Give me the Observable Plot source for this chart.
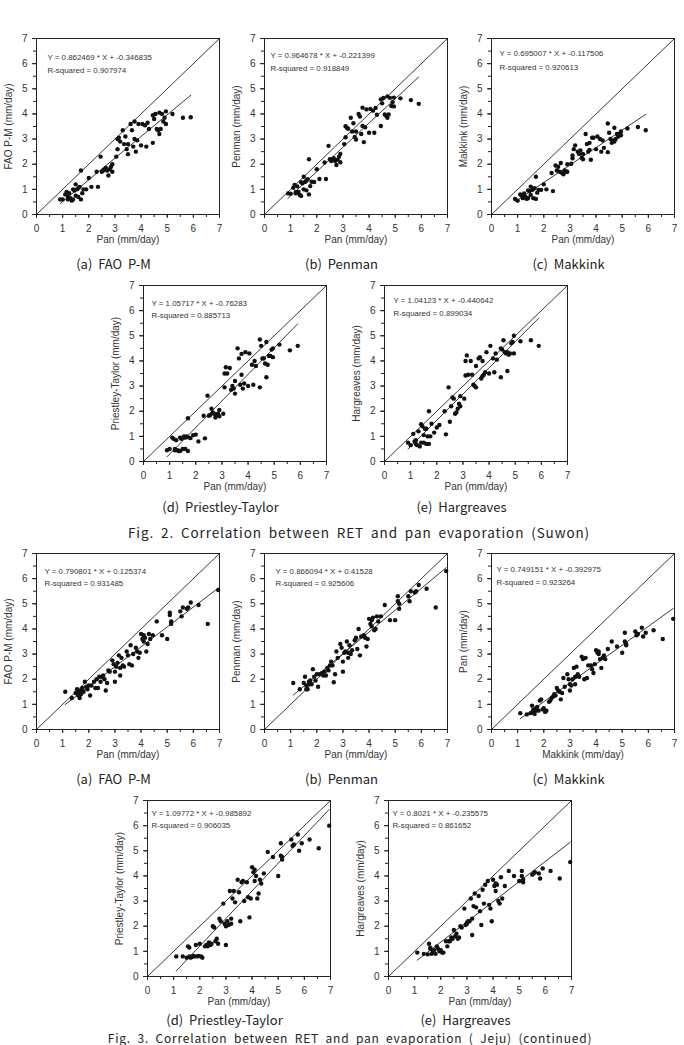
<!DOCTYPE html>
<html><head><meta charset="utf-8">
<script src="https://cdn.jsdelivr.net/npm/d3@7"></script>
<script src="https://cdn.jsdelivr.net/npm/@observablehq/plot@0.6"></script>
<style>
body{margin:0;background:#fff;}
#page{position:relative;width:684px;height:1045px;overflow:hidden;background:#fff;}
.panel{position:absolute;}
.cap{position:absolute;font-family:"Noto Sans CJK KR",sans-serif;font-size:13px;line-height:14px;color:#222;white-space:pre;transform:translateX(-50%);}
.fig{position:absolute;font-family:"Noto Sans CJK KR",sans-serif;font-size:13.5px;line-height:14px;color:#222;white-space:pre;letter-spacing:0.9px;word-spacing:3px;transform:translateX(-50%);}
.fig.small{font-size:12px;line-height:13px;letter-spacing:0.8px;}
</style></head><body><div id="page"></div>
<script>
// ---------- data ----------
const axisTicks = [0,1,2,3,4,5,6,7];
const minorTicks = [0,0.5,1,1.5,2,2.5,3,3.5,4,4.5,5,5.5,6,6.5,7];

const suwonPan = [0.9,1.0,1.1,1.15,1.2,1.2,1.25,1.3,1.35,1.4, 1.4,1.45,1.5,1.5,1.55,1.6,1.6,1.65,1.7,1.7, 1.75,1.8,1.9,2.0,2.1,2.3,2.35,2.45,2.5,2.55, 2.6,2.65,2.7,2.75,2.8,2.85,2.9,2.9,3.05,3.1, 3.1,3.15,3.2,3.3,3.35,3.4,3.45,3.5,3.5,3.6, 3.65,3.7,3.75,3.75,3.8,3.85,3.9,4.0,4.05,4.15, 4.2,4.25,4.3,4.45,4.45,4.5,4.55,4.6,4.65,4.7, 4.7,4.75,4.8,4.85,4.9,4.95,4.95,5.2,5.6,5.9];
const suwonFAO = [0.6,0.6,0.8,0.9,0.7,0.6,0.85,0.65,0.55,1.0, 0.6,0.95,1.2,0.75,1.0,0.7,1.05,1.1,0.6,1.75, 0.85,1.0,1.0,1.45,1.1,1.7,1.1,2.3,1.7,1.75, 1.8,1.85,1.75,1.55,1.8,1.9,2.0,1.7,2.3,2.6, 3.0,3.05,2.9,3.35,2.8,3.1,2.6,2.8,2.4,3.6, 3.35,2.7,3.0,3.7,2.5,2.95,3.6,2.75,3.6,3.55, 2.7,3.65,3.4,2.85,3.95,3.8,4.0,3.4,3.35,3.2, 4.05,3.4,4.0,3.7,3.85,4.1,3.6,4.0,3.85,3.87];
const suwonPenman = [0.84,0.83,1.06,1.18,0.9,0.84,1.12,0.9,0.78,1.28, 0.74,1.24,1.5,1.0,1.29,0.96,1.34,1.4,0.8,2.2, 1.13,1.3,1.29,1.8,1.41,2.07,1.41,2.73,2.2,2.13, 2.19,2.24,2.13,1.97,2.18,2.3,2.41,2.08,2.8,3.07, 3.51,3.45,3.41,3.85,3.3,3.63,3.08,3.3,2.98,4.0, 3.9,3.2,3.52,4.25,2.88,3.47,4.18,3.25,4.2,4.13, 3.25,4.24,3.97,3.52,4.58,4.42,4.64,3.98,3.93,3.85, 4.7,3.98,4.64,4.32,4.47,4.65,4.3,4.62,4.55,4.4];
const suwonMakkink = [0.62,0.55,0.8,0.75,0.72,0.65,0.84,0.7,0.62,0.96, 0.66,0.93,1.11,0.78,0.97,0.65,1.01,1.05,0.62,1.5, 0.87,0.98,0.98,1.2,1.0,1.65,0.93,1.95,1.75,1.9, 1.7,2.05,1.65,1.6,1.75,1.7,2.0,1.7,2.02,2.24, 2.35,2.6,2.75,2.5,2.41,2.55,2.26,2.41,2.2,3.2, 2.8,2.5,2.57,2.85,2.18,3.05,3.05,2.6,3.1,3.0, 2.5,2.95,2.65,2.48,3.62,3.25,3.0,2.85,2.95,2.9, 3.45,3.0,3.2,3.1,3.2,3.3,3.15,3.42,3.48,3.35];
const suwonPT = [0.45,0.5,0.95,0.9,0.5,0.45,0.85,0.45,0.42,0.95, 0.42,0.9,0.95,0.5,1.0,0.5,0.95,1.0,0.42,1.72, 0.95,0.93,1.05,1.07,0.8,1.82,0.92,2.62,1.82,1.85, 2.1,1.95,1.9,1.75,1.85,1.9,2.05,1.8,1.9,2.95, 3.5,3.75,3.5,3.72,2.85,3.0,2.9,3.2,2.7,4.5, 4.1,3.05,3.45,4.28,2.9,3.1,4.35,3.0,4.3,3.85, 3.05,4.0,3.8,2.95,4.85,4.6,4.1,4.1,3.9,3.35, 4.75,3.85,4.2,4.2,4.45,4.5,4.15,4.65,4.42,4.6];
const suwonHarg = [0.75,0.65,1.1,0.8,0.85,0.7,0.65,1.2,0.6,1.48, 0.75,1.4,1.05,0.75,1.3,0.7,1.3,1.0,0.7,2.0, 1.0,1.5,1.15,1.35,1.45,2.0,1.08,2.95,1.58,2.2, 2.55,2.5,1.9,1.95,2.1,2.3,2.6,2.2,2.5,3.42, 4.0,4.22,3.45,4.0,3.45,3.05,3.0,3.8,2.95,4.1, 4.15,3.3,3.4,4.0,3.45,3.55,4.35,3.5,4.6,4.1, 3.55,4.3,4.05,3.35,4.5,4.45,4.82,4.35,4.3,3.6, 4.35,4.25,4.3,4.7,4.75,5.0,4.3,4.78,4.82,4.6];

const jejuPan = [1.1,1.35,1.5,1.55,1.6,1.6,1.65,1.7,1.7,1.75, 1.8,1.85,1.9,1.95,2.0,2.05,2.1,2.2,2.25,2.3, 2.35,2.4,2.45,2.5,2.55,2.6,2.65,2.7,2.75,2.8, 2.9,2.95,3.0,3.0,3.05,3.1,3.15,3.2,3.2,3.25, 3.3,3.35,3.45,3.5,3.55,3.6,3.65,3.7,3.8,3.85, 3.9,3.95,4.0,4.05,4.1,4.1,4.15,4.2,4.25,4.3, 4.35,4.45,4.6,4.8,5.0,5.1,5.1,5.15,5.15,5.5, 5.55,5.6,5.75,5.8,5.9,6.2,6.55,6.95];
const jejuFAO = [1.5,1.25,1.45,1.6,1.5,1.35,1.25,1.55,1.4,1.65, 1.5,1.9,1.7,1.6,1.75,1.35,1.75,1.9,1.65,2.0, 1.65,2.1,1.9,2.1,2.15,2.0,1.55,1.85,2.35,2.3, 2.75,2.6,2.3,1.9,2.5,2.65,2.95,2.15,2.45,2.85, 2.55,2.5,3.1,2.95,2.6,3.35,2.55,3.0,3.25,3.1, 2.85,3.05,3.8,3.6,3.5,3.75,3.65,3.1,3.4,3.8, 3.6,3.75,4.3,3.75,3.6,4.65,4.55,4.3,4.2,4.7, 4.5,4.85,4.8,4.85,5.05,4.95,4.2,5.55];
const jejuPenman = [1.85,1.6,1.85,2.1,1.75,1.6,1.6,1.9,1.8,1.95, 1.8,2.4,2.1,1.95,2.2,1.7,2.2,2.25,2.15,2.3, 2.15,2.45,2.35,2.55,2.7,2.55,1.88,2.2,3.1,2.85, 3.4,3.25,2.7,2.3,3.05,3.1,3.5,2.85,3.05,3.35, 3.0,3.15,3.55,3.65,3.2,4.0,2.95,3.7,3.75,3.65, 3.3,3.6,4.4,4.2,4.1,4.35,4.45,3.95,4.0,4.5, 4.3,4.5,4.95,4.35,4.35,5.3,5.1,5.0,4.8,5.3, 5.1,5.5,5.45,5.5,5.75,5.6,4.85,6.3];
const jejuMakkink = [0.65,0.6,0.65,0.95,0.8,0.7,0.62,0.85,0.75,0.9, 0.75,1.15,1.2,0.8,0.85,0.7,0.75,1.1,1.15,1.25, 1.3,1.4,1.35,1.65,1.55,1.5,1.2,1.45,2.05,1.7, 2.2,2.0,1.8,1.55,1.75,2.0,2.45,1.8,2.1,2.5, 2.2,2.1,2.9,2.8,2.0,2.85,2.05,2.55,2.55,2.4, 2.25,2.6,3.15,3.05,3.0,3.1,2.8,2.45,2.85,2.95, 2.8,3.2,3.5,3.3,3.05,3.85,3.5,3.35,3.4,3.9, 3.75,3.8,4.05,3.7,3.85,3.95,3.6,4.4];
const jejuPT = [0.8,0.8,0.75,1.2,0.8,1.15,0.75,0.8,0.78,0.82, 0.8,1.25,0.8,0.82,1.3,0.8,0.75,1.2,1.25,1.2, 1.35,1.25,1.3,2.0,1.95,1.4,1.5,1.3,2.3,2.2, 2.9,2.1,2.0,1.25,2.2,2.05,3.4,2.3,2.1,3.1, 3.4,2.95,3.85,3.35,2.2,3.75,3.8,3.0,3.75,3.15, 2.35,3.1,4.35,4.15,3.8,4.25,4.0,3.1,3.3,3.85, 3.7,4.1,4.95,4.75,4.0,5.3,4.8,4.65,4.75,5.45, 5.2,5.25,5.65,5.0,5.3,5.45,5.1,6.0];
const jejuHarg = [0.95,0.9,0.88,1.3,1.1,1.15,0.9,1.0,0.95,1.05, 0.9,1.2,1.1,1.0,1.05,0.95,0.95,1.4,1.2,1.4, 1.4,1.55,1.5,1.85,1.6,1.7,1.5,1.55,2.0,1.95, 2.7,2.05,2.15,2.1,2.2,2.2,3.1,1.65,2.3,2.8, 3.3,2.75,3.2,2.6,2.05,3.45,2.9,3.65,3.8,2.85, 2.7,2.2,3.85,3.6,3.4,3.7,3.65,3.0,2.9,3.95, 3.1,3.6,4.2,4.0,3.8,4.2,4.0,3.75,3.85,4.05, 4.1,4.15,4.1,3.9,4.3,4.2,3.9,4.55];

const slopes     = [0.862469, 0.964678, 0.695007, 1.05717, 1.04123, 0.790801, 0.866094, 0.749151, 1.09772, 0.8021];
const intercepts = [-0.346835, -0.221399, -0.117506, -0.76283, -0.440642, 0.125374, 0.41528, -0.392975, -0.985892, -0.235575];
const rSquared   = [0.907974, 0.918849, 0.920613, 0.885713, 0.899034, 0.931485, 0.925606, 0.923264, 0.906035, 0.861652];
const xLabels = ["Pan (mm/day)","Pan (mm/day)","Pan (mm/day)","Pan (mm/day)","Pan (mm/day)","Pan (mm/day)","Pan (mm/day)","Makkink (mm/day)","Pan (mm/day)","Pan (mm/day)"];
const yLabels = ["FAO P-M (mm/day)","Penman (mm/day)","Makkink (mm/day)","Priestley-Taylor (mm/day)","Hargreaves (mm/day)","FAO P-M (mm/day)","Penman (mm/day)","Pan (mm/day)","Priestley-Taylor (mm/day)","Hargreaves (mm/day)"];
const captions = ["(a)  FAO  P-M","(b)  Penman","(c)  Makkink","(d)  Priestley-Taylor","(e)  Hargreaves","(a)  FAO  P-M","(b)  Penman","(c)  Makkink","(d)  Priestley-Taylor","(e)  Hargreaves"];
const xSeries = [suwonPan,suwonPan,suwonPan,suwonPan,suwonPan,jejuPan,jejuPan,jejuPan,jejuPan,jejuPan];
const ySeries = [suwonFAO,suwonPenman,suwonMakkink,suwonPT,suwonHarg,jejuFAO,jejuPenman,jejuMakkink,jejuPT,jejuHarg];
const figTitles = ["Fig. 2. Correlation between RET and pan evaporation (Suwon)","Fig. 3. Correlation between RET and pan evaporation ( Jeju) (continued)"];

// ---------- layout (frame left, frame top, equation dx, dy1, dy2, caption center y) ----------
const layout = [
  {fl:36, ft:38, dx:11, dy1:19, dy2:32, cy:264},
  {fl:264, ft:38, dx:6, dy1:17, dy2:30, cy:264},
  {fl:491, ft:38, dx:8, dy1:15, dy2:29, cy:264},
  {fl:143, ft:285, dx:8, dy1:18, dy2:30, cy:507},
  {fl:384, ft:285, dx:9, dy1:15, dy2:28, cy:507},
  {fl:36, ft:553, dx:8, dy1:18, dy2:30, cy:779},
  {fl:264, ft:553, dx:11, dy1:18, dy2:30, cy:779},
  {fl:491, ft:553, dx:5, dy1:16, dy2:29, cy:779},
  {fl:147, ft:800, dx:4, dy1:13, dy2:25, cy:1020},
  {fl:388, ft:800, dx:4, dy1:13, dy2:25, cy:1020}
];
const figLayout = [{cx:359, top:525, cls:"fig"},{cx:350, top:1031, cls:"fig small"}];

const ML = 36, MR = 8, MT = 8, MB = 36, PW = 183, PH = 176;
const INK = "#222";
const FONT = "'Liberation Sans', Arial, sans-serif";
const page = document.getElementById("page");

for (let i = 0; i < 10; i++) {
  const L = layout[i];
  const xs = xSeries[i], ys = ySeries[i];
  const ext = d3.extent(xs);
  const fit = ext.map(x => ({x, y: slopes[i] * x + intercepts[i]}));
  const diag = d3.extent(axisTicks).map(v => ({x: v, y: v}));
  const eq = `Y = ${slopes[i]} * X + ${intercepts[i]}`;
  const r2 = `R-squared = ${rSquared[i]}`;
  const svg = Plot.plot({
    width: ML + PW + MR, height: MT + PH + MB,
    marginLeft: ML, marginRight: MR, marginTop: MT, marginBottom: MB,
    style: {fontFamily: FONT, background: "transparent", color: INK},
    x: {domain: [0, 7]},
    y: {domain: [0, 7]},
    marks: [
      Plot.frame({stroke: INK, strokeWidth: 1}),
      Plot.axisX(minorTicks, {tickSize: 3, tickFormat: () => "", label: null, stroke: INK}),
      Plot.axisY(minorTicks, {tickSize: 3, tickFormat: () => "", label: null, stroke: INK}),
      Plot.axisX(axisTicks, {tickSize: 4, tickPadding: 6, fontSize: 10, label: null, stroke: INK, fill: "#333"}),
      Plot.axisY(axisTicks, {tickSize: 4, tickPadding: 5, fontSize: 10, label: null, stroke: INK, fill: "#333"}),
      Plot.line(diag, {x: "x", y: "y", stroke: INK, strokeWidth: 0.9}),
      Plot.line(fit, {x: "x", y: "y", stroke: INK, strokeWidth: 0.9}),
      Plot.dot(xs, {x: xs, y: ys, r: 2.2, fill: "#111", stroke: "none"}),
      Plot.text([eq], {frameAnchor: "top-left", dx: L.dx, dy: L.dy1, text: d => d, textAnchor: "start", lineAnchor: "middle", fontSize: 7.9, fill: "#333"}),
      Plot.text([r2], {frameAnchor: "top-left", dx: L.dx, dy: L.dy2, text: d => d, textAnchor: "start", lineAnchor: "middle", fontSize: 7.9, fill: "#333"}),
      Plot.text([xLabels[i]], {frameAnchor: "bottom", dy: 25, text: d => d, textAnchor: "middle", lineAnchor: "middle", fontSize: 10, fill: "#333"}),
      Plot.text([yLabels[i]], {frameAnchor: "left", dx: -28, rotate: -90, text: d => d, textAnchor: "middle", lineAnchor: "middle", fontSize: 10, fill: "#333"})
    ]
  });
  const div = document.createElement("div");
  div.className = "panel";
  div.style.left = (L.fl - ML) + "px";
  div.style.top = (L.ft - MT) + "px";
  div.appendChild(svg);
  page.appendChild(div);

  const cap = document.createElement("div");
  cap.className = "cap";
  cap.textContent = captions[i];
  cap.style.left = (L.fl - ML + (ML + PW + MR) / 2) + "px";
  cap.style.top = (L.cy - 7) + "px";
  page.appendChild(cap);
}
figTitles.forEach((t, k) => {
  const f = document.createElement("div");
  f.className = figLayout[k].cls;
  f.textContent = t;
  f.style.left = figLayout[k].cx + "px";
  f.style.top = figLayout[k].top + "px";
  page.appendChild(f);
});
</script></body></html>
